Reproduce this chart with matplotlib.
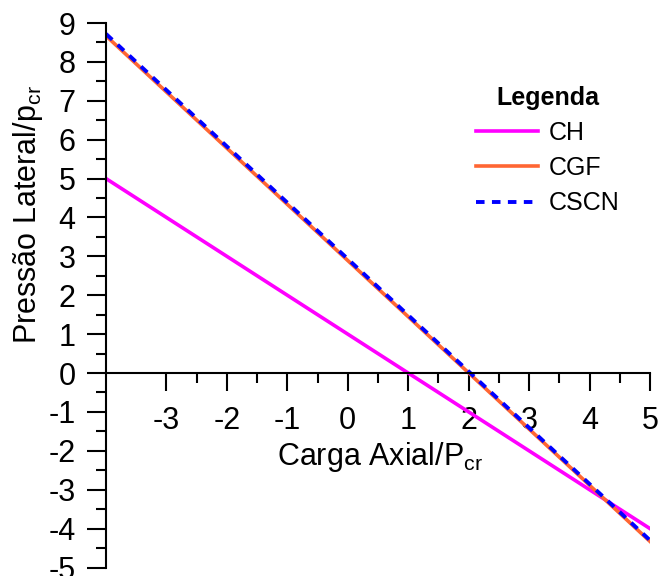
import matplotlib
matplotlib.use("Agg")
import matplotlib.pyplot as plt
import numpy as np

# chart data
carga = [-4, 5]
ch = [5.0, -4.0]
cgf = [8.67, -4.33]
cscn = [8.72, -4.30]

plt.rcParams['font.family'] = ['Liberation Sans', 'DejaVu Sans']
plt.rcParams['mathtext.fontset'] = 'custom'
plt.rcParams['mathtext.rm'] = 'Liberation Sans'
plt.rcParams['mathtext.it'] = 'Liberation Sans:italic'
plt.rcParams['axes.unicode_minus'] = False

fig = plt.figure(figsize=(6.59, 5.76), dpi=100)
ax = fig.add_axes([106 / 659, 1 - 567.5 / 576, 544 / 659, 544.5 / 576])

ax.plot(carga, ch, color="#ff00ff", lw=2.6, label="CH")
ax.plot(carga, cgf, color="#ff6633", lw=2.6, label="CGF")
ax.plot(carga, cscn, color="#0000ff", lw=2.8, ls=(0, (2.2, 1.9)), label="CSCN")

ax.set_xlim(-4, 5)
ax.set_ylim(-5, 9)

ax.spines['top'].set_visible(False)
ax.spines['right'].set_visible(False)
ax.spines['bottom'].set_position(('data', 0))
for s in ('left', 'bottom'):
    ax.spines[s].set_linewidth(1.5)

ax.set_xticks(np.arange(-3, 6, 1))
ax.set_xticks(np.arange(-2.5, 5, 1), minor=True)
ax.set_yticks(np.arange(-5, 10, 1))
ax.set_yticks(np.arange(-4.5, 9, 1), minor=True)

ax.tick_params(axis='x', which='major', direction='out', length=13, width=1.5,
               pad=11, labelsize=22)
ax.tick_params(axis='x', which='minor', direction='out', length=7, width=1.5)
ax.tick_params(axis='y', which='major', direction='out', length=14, width=1.5,
               pad=8, labelsize=22)
ax.tick_params(axis='y', which='minor', direction='out', length=7, width=1.5)

ax.set_xlabel(r"Carga Axial/P$_{\mathrm{cr}}$", fontsize=22)
ax.xaxis.set_label_coords(0.503, 0.235)
fig.text(28 / 659, 1 - 215 / 576, r"Pressão Lateral/p$_{\mathrm{cr}}$", fontsize=22,
         rotation=90, ha='center', va='center')

leg = ax.legend(loc='upper left', bbox_to_anchor=(0.68, 0.885), frameon=False,
                fontsize=18, title="Legenda",
                title_fontproperties={'weight': 'bold', 'size': 18},
                borderpad=0, borderaxespad=0, handlelength=2.5,
                handletextpad=0.4, labelspacing=0.45)

plt.savefig("out.png", dpi=100)
